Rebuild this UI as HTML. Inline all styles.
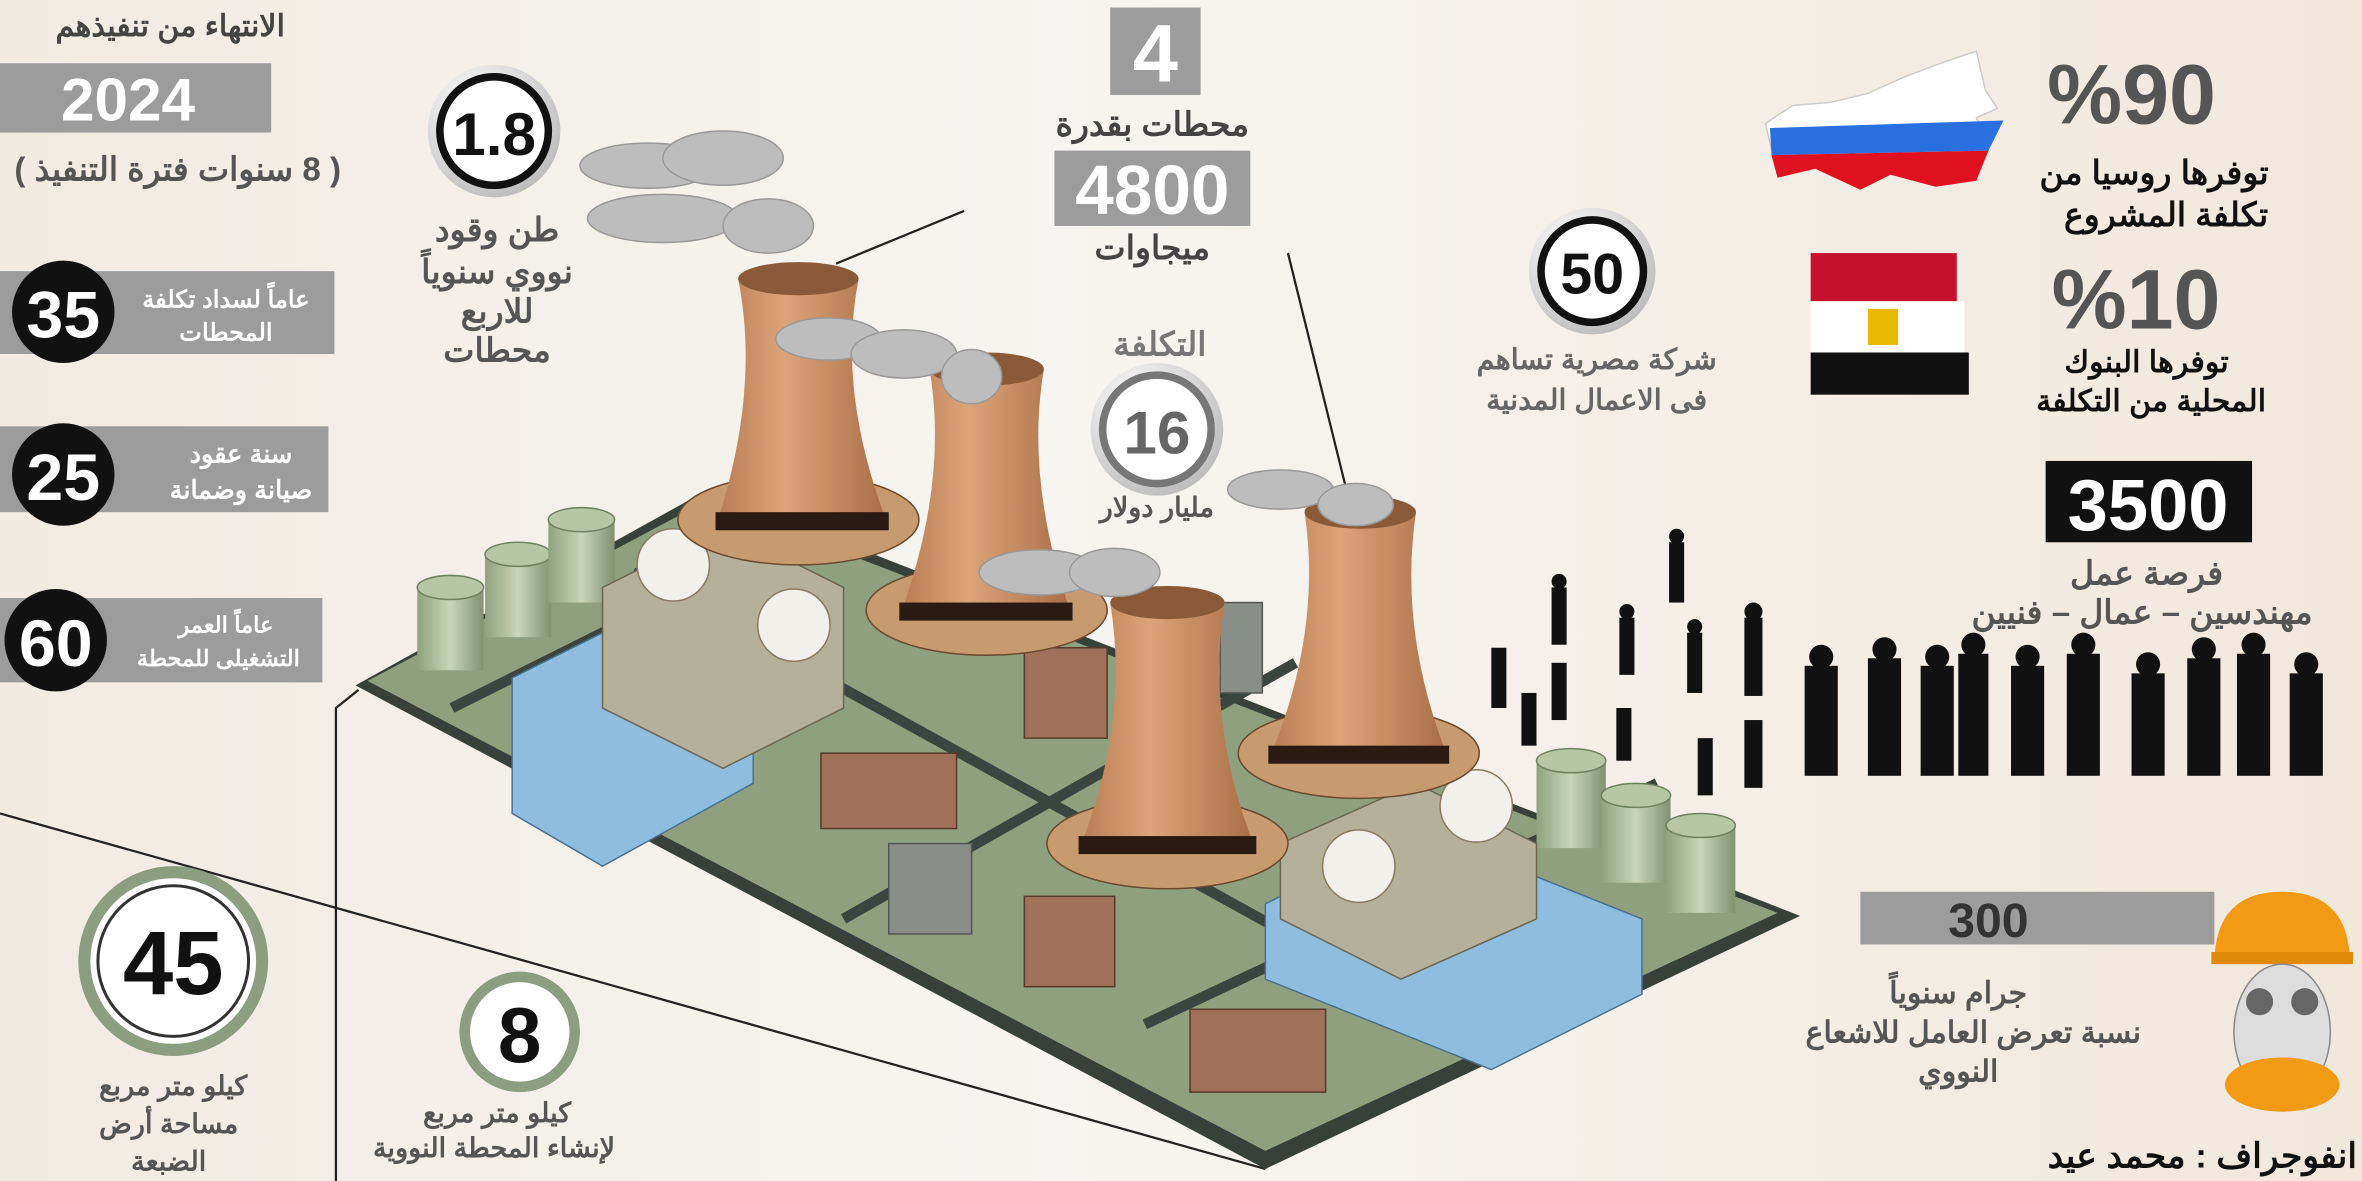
<!DOCTYPE html>
<html><head><meta charset="utf-8"><style>
html,body{margin:0;padding:0;width:2362px;height:1181px;overflow:hidden}
svg{display:block}
text{font-family:"Liberation Sans","Noto Sans CJK SC",sans-serif;font-weight:bold}
</style></head><body>
<svg width="2362" height="1181" viewBox="0 0 1568 784" xmlns="http://www.w3.org/2000/svg">
<defs>
<linearGradient id="bg" x1="0" y1="0" x2="1" y2="0"><stop offset="0" stop-color="#f1ebe2"/><stop offset="0.45" stop-color="#f7f5f1"/><stop offset="1" stop-color="#f1e8dc"/></linearGradient>
<radialGradient id="coin" cx="0.35" cy="0.3" r="0.8"><stop offset="0" stop-color="#ffffff"/><stop offset="1" stop-color="#b8b8b8"/></radialGradient>
<linearGradient id="tower" x1="0" x2="1"><stop offset="0" stop-color="#b77b52"/><stop offset="0.4" stop-color="#dca47a"/><stop offset="1" stop-color="#a86c45"/></linearGradient>
<linearGradient id="cyl" x1="0" x2="1"><stop offset="0" stop-color="#8fa37e"/><stop offset="0.5" stop-color="#c9d6b8"/><stop offset="1" stop-color="#7f9270"/></linearGradient>
</defs>
<rect width="1568" height="784" fill="url(#bg)"/>

<g stroke="#222" stroke-width="1.5" fill="none">
<line x1="0" y1="540" x2="840" y2="776"/>
<polyline points="238,458 223,470 223,784"/>
<line x1="555" y1="175" x2="640" y2="140"/>
<line x1="855" y1="168" x2="895" y2="330"/>
</g>

<polygon points="236,455 470,325 1195,608 840,776" fill="#37413a"/>
<polygon points="244,452 470,332 1180,606 840,764" fill="#8ea07e"/>
<g stroke="#3a4540" stroke-width="7" fill="none">
<line x1="300" y1="470" x2="560" y2="340"/>
<line x1="560" y1="610" x2="860" y2="440"/>
<line x1="420" y1="380" x2="1000" y2="700"/>
<line x1="760" y1="680" x2="1100" y2="520"/>
</g>
<g>
<rect x="277" y="390" width="44" height="55" fill="url(#cyl)"/><ellipse cx="299" cy="390" rx="22" ry="8" fill="#b7c6a4" stroke="#6f8260"/>
<rect x="322" y="368" width="44" height="55" fill="url(#cyl)"/><ellipse cx="344" cy="368" rx="22" ry="8" fill="#b7c6a4" stroke="#6f8260"/>
<rect x="364" y="345" width="44" height="55" fill="url(#cyl)"/><ellipse cx="386" cy="345" rx="22" ry="8" fill="#b7c6a4" stroke="#6f8260"/>
<rect x="1020" y="505" width="46" height="58" fill="url(#cyl)"/><ellipse cx="1043" cy="505" rx="23" ry="8" fill="#b7c6a4" stroke="#6f8260"/>
<rect x="1063" y="528" width="46" height="58" fill="url(#cyl)"/><ellipse cx="1086" cy="528" rx="23" ry="8" fill="#b7c6a4" stroke="#6f8260"/>
<rect x="1106" y="548" width="46" height="58" fill="url(#cyl)"/><ellipse cx="1129" cy="548" rx="23" ry="8" fill="#b7c6a4" stroke="#6f8260"/>
</g>
<polygon points="340,450 440,400 500,430 500,520 400,575 340,540" fill="#8fbde0" stroke="#4a7090"/>
<polygon points="400,390 480,350 560,390 560,470 480,510 400,470" fill="#b4b09a" stroke="#6a6650"/>
<polygon points="840,600 940,550 1090,610 1090,660 990,710 840,650" fill="#8fbde0" stroke="#4a7090"/>
<polygon points="850,560 940,520 1020,560 1020,610 930,650 850,610" fill="#b4b09a" stroke="#6a6650"/>
<g fill="#f2f0ea" stroke="#8a7a60"><circle cx="447" cy="375" r="24"/><circle cx="527" cy="415" r="24"/><circle cx="902" cy="575" r="24"/><circle cx="980" cy="535" r="24"/></g>
<g fill="#a0705a" stroke="#5a3a2a"><rect x="545" y="500" width="90" height="50"/><rect x="790" y="670" width="90" height="55"/><rect x="680" y="430" width="55" height="60"/><rect x="680" y="595" width="60" height="60"/></g>
<g fill="#8a8e88" stroke="#555"><rect x="590" y="560" width="55" height="60"/><rect x="810" y="400" width="28" height="60"/></g>
<g>
<ellipse cx="530" cy="345" rx="80" ry="30" fill="#c89a70" stroke="#6a4a30"/>
<path d="M490,185 Q505,260 475,350 L590,350 Q555,260 570,185 Z" fill="url(#tower)"/><ellipse cx="530" cy="185" rx="40" ry="11" fill="#8a5a38"/><rect x="475" y="340" width="115" height="12" fill="#2a1a12"/>
<ellipse cx="655" cy="405" rx="80" ry="30" fill="#c89a70" stroke="#6a4a30"/>
<path d="M617,245 Q630,320 597,410 L712,410 Q680,320 693,245 Z" fill="url(#tower)"/><ellipse cx="655" cy="245" rx="38" ry="11" fill="#8a5a38"/><rect x="597" y="400" width="115" height="12" fill="#2a1a12"/>
<ellipse cx="775" cy="560" rx="80" ry="30" fill="#c89a70" stroke="#6a4a30"/>
<path d="M737,400 Q750,480 716,565 L834,565 Q800,480 813,400 Z" fill="url(#tower)"/><ellipse cx="775" cy="400" rx="38" ry="11" fill="#8a5a38"/><rect x="716" y="555" width="118" height="12" fill="#2a1a12"/>
<ellipse cx="902" cy="500" rx="80" ry="30" fill="#c89a70" stroke="#6a4a30"/>
<path d="M866,340 Q878,420 842,505 L962,505 Q928,420 940,340 Z" fill="url(#tower)"/><ellipse cx="903" cy="340" rx="37" ry="11" fill="#8a5a38"/><rect x="842" y="495" width="120" height="12" fill="#2a1a12"/>
</g>
<g fill="#bdbdbd" stroke="#999">
<ellipse cx="430" cy="110" rx="45" ry="15"/><ellipse cx="480" cy="105" rx="40" ry="18"/><ellipse cx="440" cy="145" rx="50" ry="16"/><ellipse cx="510" cy="150" rx="30" ry="18"/>
<ellipse cx="550" cy="225" rx="35" ry="14"/><ellipse cx="600" cy="235" rx="35" ry="16"/><ellipse cx="645" cy="250" rx="20" ry="18"/>
<ellipse cx="690" cy="380" rx="40" ry="15"/><ellipse cx="740" cy="380" rx="30" ry="16"/>
<ellipse cx="850" cy="325" rx="35" ry="13"/><ellipse cx="900" cy="335" rx="25" ry="14"/>
</g>

<text x="113" y="24" font-size="20" fill="#444" text-anchor="middle" direction="rtl">الانتهاء من تنفيذهم</text>
<rect x="0" y="42" width="180" height="46" fill="#9c9c9c"/>
<text x="85" y="80" font-size="40" fill="#fff" text-anchor="middle">2024</text>
<text x="118" y="120" font-size="22" fill="#555" text-anchor="middle" direction="rtl">( 8 سنوات فترة التنفيذ )</text>

<rect x="0" y="180" width="222" height="55" fill="#9c9c9c"/>
<circle cx="42" cy="207" r="34" fill="#111"/>
<text x="42" y="224" font-size="44" fill="#fff" text-anchor="middle">35</text>
<text x="150" y="204" font-size="16" fill="#fff" text-anchor="middle" direction="rtl">عاماً لسداد تكلفة</text>
<text x="150" y="226" font-size="16" fill="#fff" text-anchor="middle" direction="rtl">المحطات</text>

<rect x="0" y="283" width="218" height="57" fill="#9c9c9c"/>
<circle cx="42" cy="315" r="34" fill="#111"/>
<text x="42" y="332" font-size="44" fill="#fff" text-anchor="middle">25</text>
<text x="160" y="307" font-size="17" fill="#fff" text-anchor="middle" direction="rtl">سنة عقود</text>
<text x="160" y="331" font-size="17" fill="#fff" text-anchor="middle" direction="rtl">صيانة وضمانة</text>

<rect x="0" y="397" width="214" height="56" fill="#9c9c9c"/>
<circle cx="37" cy="425" r="34" fill="#111"/>
<text x="37" y="442" font-size="44" fill="#fff" text-anchor="middle">60</text>
<text x="150" y="420" font-size="15" fill="#fff" text-anchor="middle" direction="rtl">عاماً العمر</text>
<text x="145" y="442" font-size="15" fill="#fff" text-anchor="middle" direction="rtl">التشغيلى للمحطة</text>

<circle cx="115" cy="638" r="63" fill="#8c9e80"/>
<circle cx="115" cy="638" r="55" fill="#fff"/>
<circle cx="115" cy="638" r="50" fill="none" stroke="#333" stroke-width="2"/>
<text x="115" y="660" font-size="60" fill="#111" text-anchor="middle">45</text>
<text x="115" y="727" font-size="18" fill="#555" text-anchor="middle" direction="rtl">كيلو متر مربع</text>
<text x="112" y="752" font-size="18" fill="#555" text-anchor="middle" direction="rtl">مساحة أرض</text>
<text x="112" y="777" font-size="18" fill="#555" text-anchor="middle" direction="rtl">الضبعة</text>

<circle cx="345" cy="685" r="40" fill="#8c9e80"/>
<circle cx="345" cy="685" r="33" fill="#fff"/>
<text x="345" y="705" font-size="52" fill="#111" text-anchor="middle">8</text>
<text x="330" y="745" font-size="18" fill="#555" text-anchor="middle" direction="rtl">كيلو متر مربع</text>
<text x="328" y="768" font-size="18" fill="#555" text-anchor="middle" direction="rtl">لإنشاء المحطة النووية</text>

<circle cx="328" cy="87" r="44" fill="url(#coin)"/>
<circle cx="328" cy="87" r="36" fill="#fff" stroke="#111" stroke-width="5"/>
<text x="328" y="103" font-size="40" fill="#111" text-anchor="middle">1.8</text>
<text x="330" y="160" font-size="22" fill="#555" text-anchor="middle" direction="rtl">طن وقود</text>
<text x="330" y="188" font-size="22" fill="#555" text-anchor="middle" direction="rtl">نووي سنوياً</text>
<text x="330" y="214" font-size="22" fill="#555" text-anchor="middle" direction="rtl">للاربع</text>
<text x="330" y="240" font-size="22" fill="#555" text-anchor="middle" direction="rtl">محطات</text>

<rect x="737" y="5" width="60" height="58" fill="#9c9c9c"/>
<text x="767" y="54" font-size="54" fill="#fff" text-anchor="middle">4</text>
<text x="765" y="90" font-size="22" fill="#444" text-anchor="middle" direction="rtl">محطات بقدرة</text>
<rect x="700" y="100" width="130" height="50" fill="#9c9c9c"/>
<text x="765" y="142" font-size="46" fill="#fff" text-anchor="middle">4800</text>
<text x="765" y="172" font-size="22" fill="#444" text-anchor="middle" direction="rtl">ميجاوات</text>
<text x="770" y="236" font-size="22" fill="#777" text-anchor="middle" direction="rtl">التكلفة</text>
<circle cx="768" cy="285" r="44" fill="url(#coin)"/>
<circle cx="768" cy="285" r="36" fill="#fff" stroke="#777" stroke-width="5"/>
<text x="768" y="301" font-size="40" fill="#666" text-anchor="middle">16</text>
<text x="768" y="343" font-size="18" fill="#555" text-anchor="middle" direction="rtl">مليار دولار</text>

<circle cx="1057" cy="180" r="42" fill="url(#coin)"/>
<circle cx="1057" cy="180" r="34" fill="#fff" stroke="#111" stroke-width="5"/>
<text x="1057" y="195" font-size="38" fill="#111" text-anchor="middle">50</text>
<text x="1060" y="245" font-size="19" fill="#666" text-anchor="middle" direction="rtl">شركة مصرية تساهم</text>
<text x="1060" y="272" font-size="19" fill="#666" text-anchor="middle" direction="rtl">فى الاعمال المدنية</text>

<path d="M1172,82 L1190,70 L1215,68 L1240,62 L1262,52 L1280,45 L1300,38 L1312,34 L1318,60 L1326,72 L1312,78 L1320,100 L1300,118 L1280,122 L1255,115 L1235,122 L1205,110 L1180,116 Z" fill="#fff" stroke="#ccc"/>
<path d="M1175,85 L1330,80 L1320,100 L1176,103 Z" fill="#2a6fe0"/>
<path d="M1176,103 L1320,100 L1312,120 L1285,124 L1255,116 L1235,126 L1205,112 L1180,118 Z" fill="#e01020"/>
<text x="1415" y="82" font-size="56" fill="#555" text-anchor="middle">%90</text>
<text x="1430" y="122" font-size="22" fill="#111" text-anchor="middle" direction="rtl">توفرها روسيا من</text>
<text x="1438" y="150" font-size="22" fill="#111" text-anchor="middle" direction="rtl">تكلفة المشروع</text>

<rect x="1202" y="168" width="97" height="32" fill="#c8102e"/>
<rect x="1202" y="200" width="102" height="34" fill="#fff"/>
<rect x="1202" y="234" width="105" height="28" fill="#111"/>
<rect x="1240" y="205" width="20" height="24" fill="#e8b800"/>
<text x="1418" y="218" font-size="56" fill="#555" text-anchor="middle">%10</text>
<text x="1425" y="247" font-size="20" fill="#111" text-anchor="middle" direction="rtl">توفرها البنوك</text>
<text x="1428" y="273" font-size="20" fill="#111" text-anchor="middle" direction="rtl">المحلية من التكلفة</text>

<rect x="1358" y="306" width="137" height="54" fill="#111"/>
<text x="1426" y="352" font-size="48" fill="#fff" text-anchor="middle">3500</text>
<text x="1425" y="388" font-size="22" fill="#555" text-anchor="middle" direction="rtl">فرصة عمل</text>
<text x="1422" y="414" font-size="22" fill="#555" text-anchor="middle" direction="rtl">مهندسين  – عمال – فنيين</text>

<g fill="#111">
<rect x="1108" y="360" width="10" height="40"/><rect x="1030" y="390" width="10" height="38"/><rect x="1075" y="410" width="10" height="38"/><rect x="1120" y="420" width="10" height="40"/><rect x="1158" y="410" width="12" height="52"/>
<rect x="990" y="430" width="10" height="40"/><rect x="1030" y="440" width="10" height="38"/><rect x="1010" y="460" width="10" height="35"/><rect x="1073" y="470" width="10" height="35"/><rect x="1127" y="490" width="10" height="38"/><rect x="1158" y="478" width="12" height="45"/>
<rect x="1198" y="442" width="22" height="73"/><rect x="1240" y="437" width="22" height="78"/><rect x="1275" y="442" width="22" height="73"/><rect x="1300" y="434" width="20" height="81"/><rect x="1335" y="442" width="22" height="73"/><rect x="1372" y="434" width="22" height="81"/><rect x="1415" y="447" width="22" height="68"/><rect x="1452" y="437" width="22" height="78"/><rect x="1485" y="434" width="22" height="81"/><rect x="1520" y="447" width="22" height="68"/>
<g><circle cx="1113" cy="356" r="5"/><circle cx="1035" cy="386" r="5"/><circle cx="1080" cy="406" r="5"/><circle cx="1125" cy="416" r="5"/><circle cx="1164" cy="406" r="6"/><circle cx="1209" cy="436" r="8"/><circle cx="1251" cy="431" r="8"/><circle cx="1286" cy="436" r="8"/><circle cx="1310" cy="428" r="8"/><circle cx="1346" cy="436" r="8"/><circle cx="1383" cy="428" r="8"/><circle cx="1426" cy="441" r="8"/><circle cx="1463" cy="431" r="8"/><circle cx="1496" cy="428" r="8"/><circle cx="1531" cy="441" r="8"/></g>
</g>

<rect x="1235" y="592" width="235" height="35" fill="#9c9c9c"/>
<text x="1320" y="622" font-size="32" fill="#333" text-anchor="middle">300</text>
<text x="1300" y="666" font-size="20" fill="#555" text-anchor="middle" direction="rtl">جرام سنوياً</text>
<text x="1310" y="692" font-size="20" fill="#555" text-anchor="middle" direction="rtl">نسبة تعرض العامل  للاشعاع</text>
<text x="1300" y="718" font-size="20" fill="#555" text-anchor="middle" direction="rtl">النووي</text>
<path d="M1470,640 Q1470,592 1515,592 Q1560,592 1560,640 Z" fill="#f39a14"/>
<rect x="1468" y="632" width="94" height="8" fill="#e08a0a"/>
<ellipse cx="1515" cy="685" rx="32" ry="45" fill="#ddd" stroke="#888"/>
<circle cx="1500" cy="665" r="9" fill="#666"/><circle cx="1530" cy="665" r="9" fill="#666"/>
<ellipse cx="1515" cy="720" rx="38" ry="18" fill="#f39a14"/>

<text x="1462" y="775" font-size="23" fill="#111" text-anchor="middle" direction="rtl">انفوجراف : محمد عيد</text>
</svg>
</body></html>
